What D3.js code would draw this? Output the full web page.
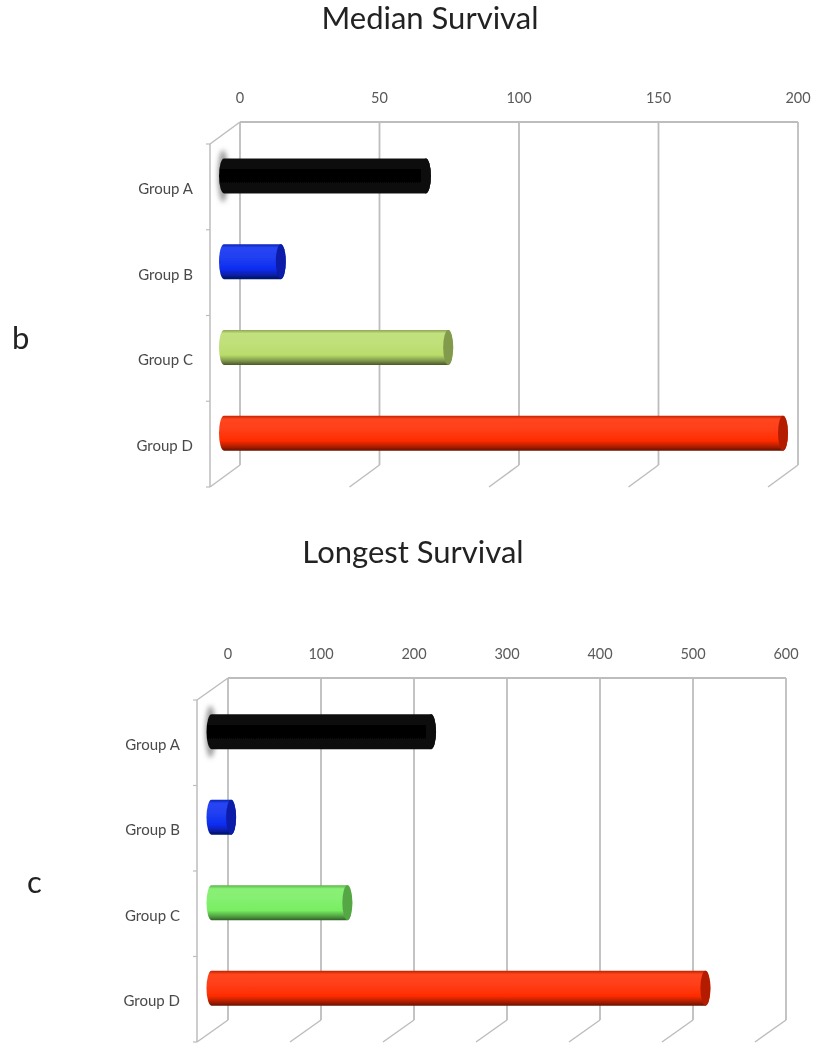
<!DOCTYPE html>
<html><head><meta charset="utf-8">
<style>html,body{margin:0;padding:0;background:#fff}svg{display:block}text{font-family:Lato,"Open Sans",sans-serif}</style>
<script src="https://cdn.jsdelivr.net/npm/d3@7/dist/d3.min.js"></script>
</head><body>
<svg id="c" width="816" height="1050"></svg>
<script>
const categories = ["Group A","Group B","Group C","Group D"];
const medianValues = [72,20,80,200];
const longestValues = [235,20,145,530];
const medianTicks = [0,50,100,150,200];
const longestTicks = [0,100,200,300,400,500,600];
const medianColors = ["#050505","#0a2cf0","#b9dc6c","#ff2c00"];
const longestColors = ["#050505","#0a2cf0","#78ee62","#ff2c00"];

const svg = d3.select("#c");
const defs = svg.append("defs");
defs.append("filter").attr("id","soft").attr("x","-5%").attr("y","-5%").attr("width","110%").attr("height","110%")
  .append("feGaussianBlur").attr("stdDeviation",0.55);
defs.append("filter").attr("id","halo").attr("x","-100%").attr("y","-50%").attr("width","300%").attr("height","200%")
  .append("feGaussianBlur").attr("stdDeviation",2.5);

function shade(c,k){return k>0?d3.interpolateRgb(c,"#fff")(k):d3.interpolateRgb(c,"#000")(-k);}
let gid=0;
function chart(cfg){
  const g = svg.append("g").attr("filter","url(#soft)");
  const x = d3.scaleLinear().domain(d3.extent(cfg.ticks)).range(cfg.xRange);
  const y = d3.scaleBand().domain(categories).range([cfg.top+cfg.dy,cfg.bottom+cfg.dy]);
  const grid="#bdbdbd";
  const line=(x1,y1,x2,y2,w=1.8)=>g.append("line").attr("x1",x1).attr("y1",y1).attr("x2",x2).attr("y2",y2)
     .attr("stroke",grid).attr("stroke-width",w);
  // back wall and floor
  line(cfg.xRange[0],cfg.top,cfg.xRange[1],cfg.top);
  cfg.ticks.forEach(t=>{
    const px=x(t);
    line(px,cfg.top,px,cfg.bottom);
    line(px,cfg.bottom,px-cfg.dx,cfg.bottom+cfg.dy,1.5);
    g.append("text").attr("x",px).attr("y",cfg.top-19).attr("text-anchor","middle")
      .attr("font-size",14.5).attr("fill","#5a5a5a").text(t);
  });
  line(cfg.xRange[0],cfg.top,cfg.xRange[0]-cfg.dx,cfg.top+cfg.dy,1.5);
  const ax=cfg.xRange[0]-cfg.dx;
  line(ax,cfg.top+cfg.dy,ax,cfg.bottom+cfg.dy,1.5);
  const st=y.step();
  d3.range(5).forEach(i=>line(ax-4,cfg.top+cfg.dy+i*st,ax,cfg.top+cfg.dy+i*st,1.2));
  // category labels
  categories.forEach(c=>{
    g.append("text").attr("x",ax-17).attr("y",y(c)+st/2+7).attr("text-anchor","end")
      .attr("font-size",15).attr("fill","#4a4a4a").text(c);
  });
  // bars
  const barOff=-cfg.dx/2, h=35, rx=5;
  categories.forEach((c,i)=>{
    const v=cfg.values[i], col=cfg.colors[i];
    const cy=y(c)+st/2-cfg.dy/2, x0=x(0)+barOff-1, x1=x(v)+barOff;
    if(i===0){
      g.append("ellipse").attr("cx",x0-1).attr("cy",cy).attr("rx",5).attr("ry",26)
        .attr("fill","#9a9a9a").attr("filter","url(#halo)");
    }
    const id="grad"+(gid++);
    const lg=defs.append("linearGradient").attr("id",id).attr("x1",0).attr("y1",0).attr("x2",0).attr("y2",1);
    const stops = i===0
      ? [[0,"#111"],[.5,"#000"],[1,"#111"]]
      : [[0,shade(col,-.25)],[.1,shade(col,.12)],[.35,shade(col,.1)],[.72,col],[.9,shade(col,-.35)],[1,shade(col,-.6)]];
    stops.forEach(s=>lg.append("stop").attr("offset",s[0]).attr("stop-color",s[1]));
    g.append("path").attr("fill",`url(#${id})`)
      .attr("d",`M${x0},${cy-h/2}L${x1},${cy-h/2}A${rx},${h/2} 0 0 1 ${x1},${cy+h/2}L${x0},${cy+h/2}A${rx},${h/2} 0 0 1 ${x0},${cy-h/2}Z`);
    g.append("ellipse").attr("cx",x1).attr("cy",cy).attr("rx",rx).attr("ry",h/2)
      .attr("fill",i===0?"#0a0a0a":shade(col,-.3));
  });
  // titles and panel letters
  svg.append("text").attr("x",cfg.titleX).attr("y",cfg.titleY).attr("text-anchor","middle")
    .attr("font-size",31).attr("fill","#222").attr("filter","url(#soft)").text(cfg.title);
  svg.append("text").attr("x",cfg.letterX).attr("y",cfg.letterY)
    .attr("font-size",31).attr("fill","#222").attr("filter","url(#soft)").text(cfg.letter);
}
chart({values:medianValues,ticks:medianTicks,colors:medianColors,xRange:[240,798],top:122,bottom:465,dx:30,dy:22,
  title:"Median Survival",titleX:430,titleY:29,letter:"b",letterX:12,letterY:349});
chart({values:longestValues,ticks:longestTicks,colors:longestColors,xRange:[228,786],top:678,bottom:1020,dx:31,dy:22,
  title:"Longest Survival",titleX:413,titleY:563,letter:"c",letterX:27,letterY:893});
</script>
</body></html>
